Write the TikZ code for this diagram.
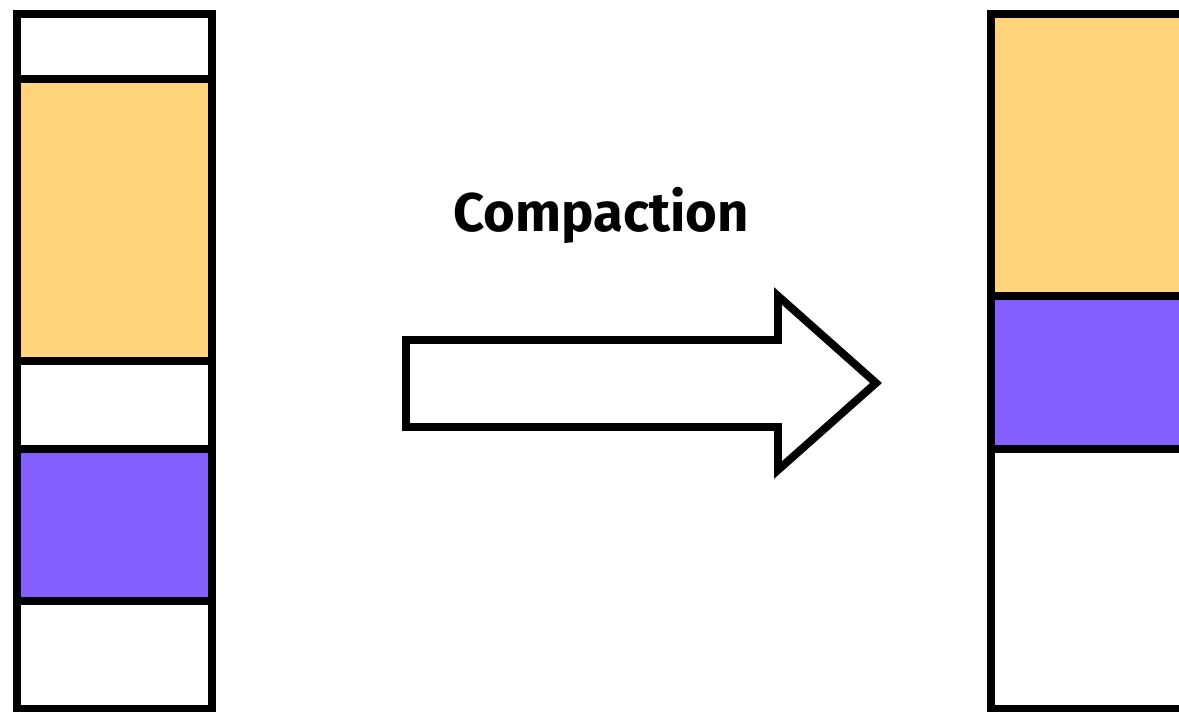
\documentclass[tikz,border=0pt]{standalone}
\usepackage{fontspec}
\setmainfont{Fira Sans}
\definecolor{memorange}{HTML}{FFD47A}
\definecolor{mempurple}{HTML}{835FFF}

\begin{document}
\begin{tikzpicture}[x=0.02cm, y=-0.02cm, line width=4.5pt, line join=miter]
  \useasboundingbox (0,0) rectangle (1179,712);
  \clip (0,0) rectangle (1179,712);
  % 左列：压缩前
  \draw[fill=white] (17,14) rectangle (212,79);
  \draw[fill=memorange] (17,79) rectangle (212,361);
  \draw[fill=white] (17,361) rectangle (212,449);
  \draw[fill=mempurple] (17,449) rectangle (212,601);
  \draw[fill=white] (17,601) rectangle (212,709);
  % 右列：压缩后
  \draw[fill=memorange] (991,14) rectangle (1200,296);
  \draw[fill=mempurple] (991,296) rectangle (1200,449);
  \draw[fill=white] (991,449) rectangle (1200,709);
  % 箭头
  \coordinate (A) at (406,340);
  \coordinate (B) at (778,340);
  \coordinate (C) at (778,296);
  \coordinate (D) at (876,383);
  \coordinate (E) at (778,470);
  \coordinate (F) at (778,427);
  \coordinate (G) at (406,427);
  \draw (A)--(B)--(C)--(D)--(E)--(F)--(G)--cycle;
  \node[anchor=base, font=\bfseries\fontsize{31}{37}\selectfont] (title) at (601,232) {Compaction};
\end{tikzpicture}
\end{document}
